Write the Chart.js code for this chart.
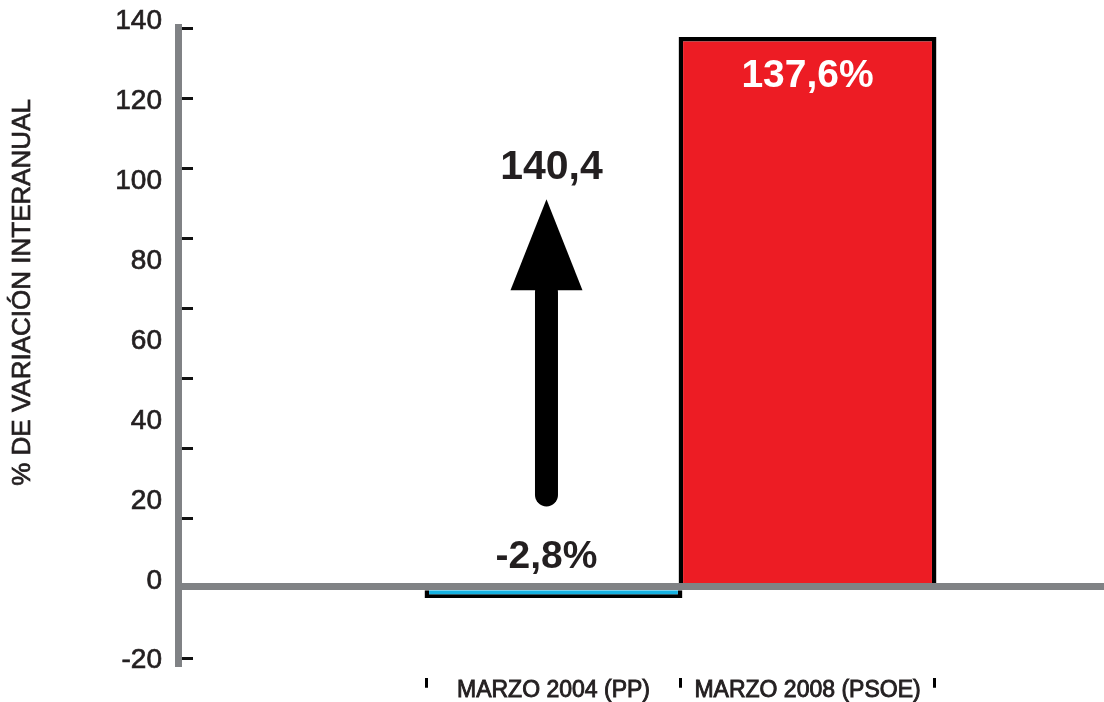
<!DOCTYPE html>
<html>
<head>
<meta charset="utf-8">
<title>Variación interanual</title>
<script src="https://cdn.jsdelivr.net/npm/chart.js"></script>
<style>
  body { margin: 0; background: #fff; }
  canvas { display: block; }
</style>
</head>
<body>
<canvas id="chart" width="1104" height="702"></canvas>
<script>
// data
const categories = ['MARZO 2004 (PP)', 'MARZO 2008 (PSOE)'];
const values = [-2.8, 137.6];
const barColors = ['#17b3e3', '#ed1c24'];
const yTicks = [-20, 0, 20, 40, 60, 80, 100, 120, 140];
const yTitle = '% DE VARIACIÓN INTERANUAL';
// arrow over the first bar, in axis units
const arrowFrom = 23;
const arrowTo = 97;

const ink = '#231f20';
const gray = '#808285';
const family = '"Liberation Sans", Arial, sans-serif';
Chart.defaults.font.family = family;

const fmt = v => v.toFixed(1).replace('.', ',');

// title, value labels and the difference arrow
const annotations = {
  id: 'annotations',
  afterDraw(chart) {
    const { ctx, chartArea, scales: { y } } = chart;
    const bars = chart.getDatasetMeta(0).data;

    ctx.save();
    ctx.translate(23, chartArea.top + 265);
    ctx.rotate(-Math.PI / 2);
    ctx.fillStyle = ink;
    ctx.strokeStyle = ink;
    ctx.lineWidth = 0.7;
    ctx.font = '26px ' + family;
    ctx.textAlign = 'center';
    ctx.textBaseline = 'middle';
    ctx.fillText(yTitle, 0, 0);
    ctx.strokeText(yTitle, 0, 0);
    ctx.restore();

    ctx.save();
    ctx.font = 'bold 39px ' + family;
    ctx.textAlign = 'center';
    ctx.textBaseline = 'alphabetic';
    const ax = bars[0].x - 7;
    ctx.fillStyle = ink;
    ctx.fillText(fmt(values[0]) + '%', ax, y.getPixelForValue(0) - 19);
    ctx.fillStyle = '#fff';
    ctx.fillText(fmt(values[1]) + '%', bars[1].x, bars[1].y + 50);

    const tip = y.getPixelForValue(arrowTo);
    const base = tip + 91;
    ctx.strokeStyle = '#000';
    ctx.lineWidth = 23;
    ctx.lineCap = 'round';
    ctx.beginPath();
    ctx.moveTo(ax, y.getPixelForValue(arrowFrom));
    ctx.lineTo(ax, base + 2);
    ctx.stroke();
    ctx.fillStyle = '#000';
    ctx.beginPath();
    ctx.moveTo(ax, tip);
    ctx.lineTo(ax - 36, base);
    ctx.lineTo(ax + 36, base);
    ctx.closePath();
    ctx.fill();

    ctx.font = 'bold 41px ' + family;
    ctx.fillStyle = ink;
    ctx.fillText(fmt(values[1] - values[0]), bars[0].x - 2, tip - 20);
    ctx.restore();
  }
};

new Chart(document.getElementById('chart'), {
  type: 'bar',
  data: {
    datasets: [{
      data: categories.map((c, i) => ({ x: i, y: values[i] })),
      backgroundColor: barColors,
      borderColor: '#000',
      borderWidth: 4.5,
      // ruler is half a category (ticks every 0.5), so bars span ~2x that
      barPercentage: 2.03,
      categoryPercentage: 1
    }]
  },
  plugins: [annotations],
  options: {
    responsive: false,
    animation: false,
    layout: { padding: { top: 27.4, bottom: 0, left: 0, right: 0 } },
    plugins: { legend: { display: false }, tooltip: { enabled: false } },
    scales: {
      x: {
        type: 'linear',
        offset: false,
        min: -1.478,
        max: 2.167,
        afterBuildTicks: s => {
          s.ticks = [-0.5, 0, 0.5, 1, 1.5].map(v => ({ value: v }));
        },
        ticks: {
          autoSkip: false,
          maxRotation: 0,
          minRotation: 0,
          padding: -11,
          color: ink,
          textStrokeColor: ink,
          textStrokeWidth: 0.9,
          font: { size: 23 },
          callback: v => Number.isInteger(v) ? categories[v] : ''
        },
        grid: {
          offset: false,
          drawOnChartArea: false,
          tickLength: 21,
          tickWidth: 3,
          tickColor: c => c.tick && Number.isInteger(c.tick.value) ? 'transparent' : '#000',
          tickBorderDash: [0, 11, 10, 100]
        },
        border: { display: false },
        afterFit: s => { s.height = 35.3; }
      },
      y: {
        min: yTicks[0],
        max: yTicks[yTicks.length - 1],
        afterBuildTicks: s => {
          s.ticks = yTicks.map(v => ({ value: v }));
        },
        ticks: {
          padding: 16,
          labelOffset: -6,
          color: ink,
          textStrokeColor: ink,
          textStrokeWidth: 0.7,
          font: { size: 28 }
        },
        grid: {
          drawTicks: false,
          z: 1,
          color: c => c.tick && c.tick.value === 0 ? gray : 'transparent',
          lineWidth: c => c.tick && c.tick.value === 0 ? 7 : 0
        },
        border: { color: gray, width: 7, z: 1 },
        afterFit: s => {
          s.width = 178;
          s.paddingTop = 0;
          s.paddingBottom = 0;
        }
      },
      // short black marks beside the axis line
      marks: {
        type: 'linear',
        position: 'left',
        min: -0.12,
        max: 9.019,
        ticks: { display: false, stepSize: 1, includeBounds: false },
        grid: { drawTicks: false, color: '#111', lineWidth: 3 },
        border: { display: false, dash: [15, 5000] },
        afterFit: s => { s.width = 0; }
      }
    }
  }
});
</script>
</body>
</html>
